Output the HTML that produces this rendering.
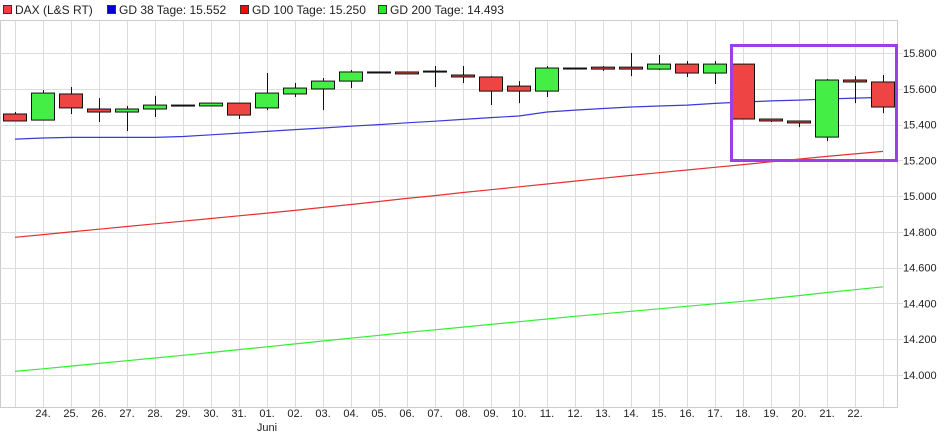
<!DOCTYPE html>
<html><head><meta charset="utf-8"><style>
body{margin:0;background:#fff;font-family:"Liberation Sans",sans-serif}
svg text{font-family:"Liberation Sans",sans-serif}
</style></head><body>
<svg id="c" width="949" height="436" xmlns="http://www.w3.org/2000/svg">
<g font-size="12" fill="#222">
<g><rect x="3.5" y="5.5" width="8" height="8" fill="#ef4040" stroke="#333"/><text x="15" y="14">DAX (L&amp;S RT)</text></g>
<g><rect x="107.5" y="5.5" width="8" height="8" fill="#0000cc" stroke="#333"/><text x="119" y="14">GD 38 Tage: 15.552</text></g>
<g><rect x="240.5" y="5.5" width="8" height="8" fill="#e81010" stroke="#333"/><text x="252" y="14">GD 100 Tage: 15.250</text></g>
<g><rect x="378.5" y="5.5" width="8" height="8" fill="#22ee22" stroke="#333"/><text x="390" y="14">GD 200 Tage: 14.493</text></g>
</g>
<g id="grid"></g>
<g id="lines"></g>
<g id="candles"></g>
<g id="axes"></g>
<rect x="731.5" y="45.5" width="165" height="115" fill="none" stroke="#9a40e6" stroke-width="3"/>
</svg>
<script>
const xLabels=["24.","25.","26.","27.","28.","29.","30.","31.","01.","02.","03.","04.","05.","06.","07.","08.","09.","10.","11.","12.","13.","14.","15.","16.","17.","18.","19.","20.","21.","22."];
const openV=[15459,15425,15571,15487,15470,15487,15509,15504,15520,15493,15571,15599,15643,15694,15694,15699,15677,15666,15615,15587,15716,15721,15721,15710,15738,15688,15738,15431,15420,15330,15649,15638];
const closeV=[15420,15576,15493,15470,15487,15509,15509,15520,15453,15576,15604,15643,15694,15694,15683,15694,15666,15587,15587,15716,15716,15710,15710,15738,15688,15738,15431,15420,15409,15649,15638,15498];
const highV=[15470,15593,15610,15548,15504,15560,15509,15520,15520,15688,15632,15660,15705,15694,15694,15727,15727,15671,15643,15727,15716,15727,15800,15789,15755,15755,15738,15431,15420,15655,15671,15677];
const lowV=[15420,15425,15459,15414,15364,15442,15509,15504,15431,15481,15554,15481,15604,15694,15683,15610,15632,15509,15520,15554,15716,15700,15671,15705,15666,15627,15431,15414,15386,15308,15520,15464];
const gd38=[15319,15325,15328,15328,15328,15328,15333,15343,15352,15362,15372,15381,15391,15400,15410,15419,15429,15439,15448,15470,15481,15490,15498,15504,15509,15518,15526,15532,15537,15543,15548,15552];
const gd100=[14770,14785,14800,14815,14830,14845,14860,14875,14890,14905,14920,14937,14953,14970,14987,15003,15020,15036,15052,15068,15084,15100,15116,15131,15146,15161,15176,15192,15207,15222,15236,15250];
const gd200=[14020,14035,14050,14065,14080,14095,14110,14126,14142,14158,14174,14190,14206,14222,14238,14253,14268,14283,14298,14313,14328,14342,14356,14370,14384,14398,14412,14428,14444,14461,14477,14493];
const yTicks=[14000,14200,14400,14600,14800,15000,15200,15400,15600,15800];

const NS="http://www.w3.org/2000/svg";
const X=i=>15+28*i;
const Y=v=>53+(15800-v)*0.1789;
function mk(tag,attrs,parent){const e=document.createElementNS(NS,tag);for(const k in attrs)e.setAttribute(k,attrs[k]);parent.appendChild(e);return e;}
const grid=document.getElementById('grid'),axes=document.getElementById('axes'),lines=document.getElementById('lines'),cg=document.getElementById('candles');
mk('rect',{x:0.5,y:20.5,width:897,height:387,fill:'none',stroke:'#ccc'},grid);
for(let i=0;i<openV.length;i++){
  const l=mk('line',{x1:X(i)+0.5,x2:X(i)+0.5,y1:21,y2:407,stroke:'#dcdcdc'},grid);
  
  
}
yTicks.forEach(v=>{
  const l=mk('line',{x1:0,x2:903,y1:Math.round(Y(v))+0.5,y2:Math.round(Y(v))+0.5,stroke:'#dcdcdc'},grid);
  
  
  const t=mk('text',{x:903,y:Y(v)+4,'font-size':'11',fill:'#222'},axes);
  t.textContent=(v/1000).toFixed(3);
  
  
});
xLabels.forEach((s,k)=>{
  const t=mk('text',{x:X(k+1),y:417,'font-size':'11','text-anchor':'middle',fill:'#222'},axes);
  t.textContent=s;
  
  
});
const ju=mk('text',{x:X(9),y:431,'font-size':'11','text-anchor':'middle',fill:'#222'},axes);
ju.textContent='Juni';


[[gd38,'#3a3ad8','gd38-line'],[gd100,'#e83030','gd100-line'],[gd200,'#33ee33','gd200-line']].forEach(([arr,col,n])=>{
  const p=mk('polyline',{points:arr.map((v,i)=>X(i)+','+Y(v).toFixed(1)).join(' '),fill:'none',stroke:col,'stroke-width':1.2},lines);
  
  
});
for(let i=0;i<openV.length;i++){
  const g=mk('g',{},cg);
  
  
  mk('line',{x1:X(i)+0.5,x2:X(i)+0.5,y1:Y(highV[i]),y2:Y(lowV[i]),stroke:'#111'},g);
  const top=Math.min(Y(openV[i]),Y(closeV[i])),h=Math.max(1,Math.abs(Y(openV[i])-Y(closeV[i])));
  const up=closeV[i]>openV[i];
  mk('rect',{x:X(i)-11.5,y:top,width:23,height:h,fill:up?'#44ee44':'#ee4444',stroke:'#111'},g);
}
</script>
</body></html>
